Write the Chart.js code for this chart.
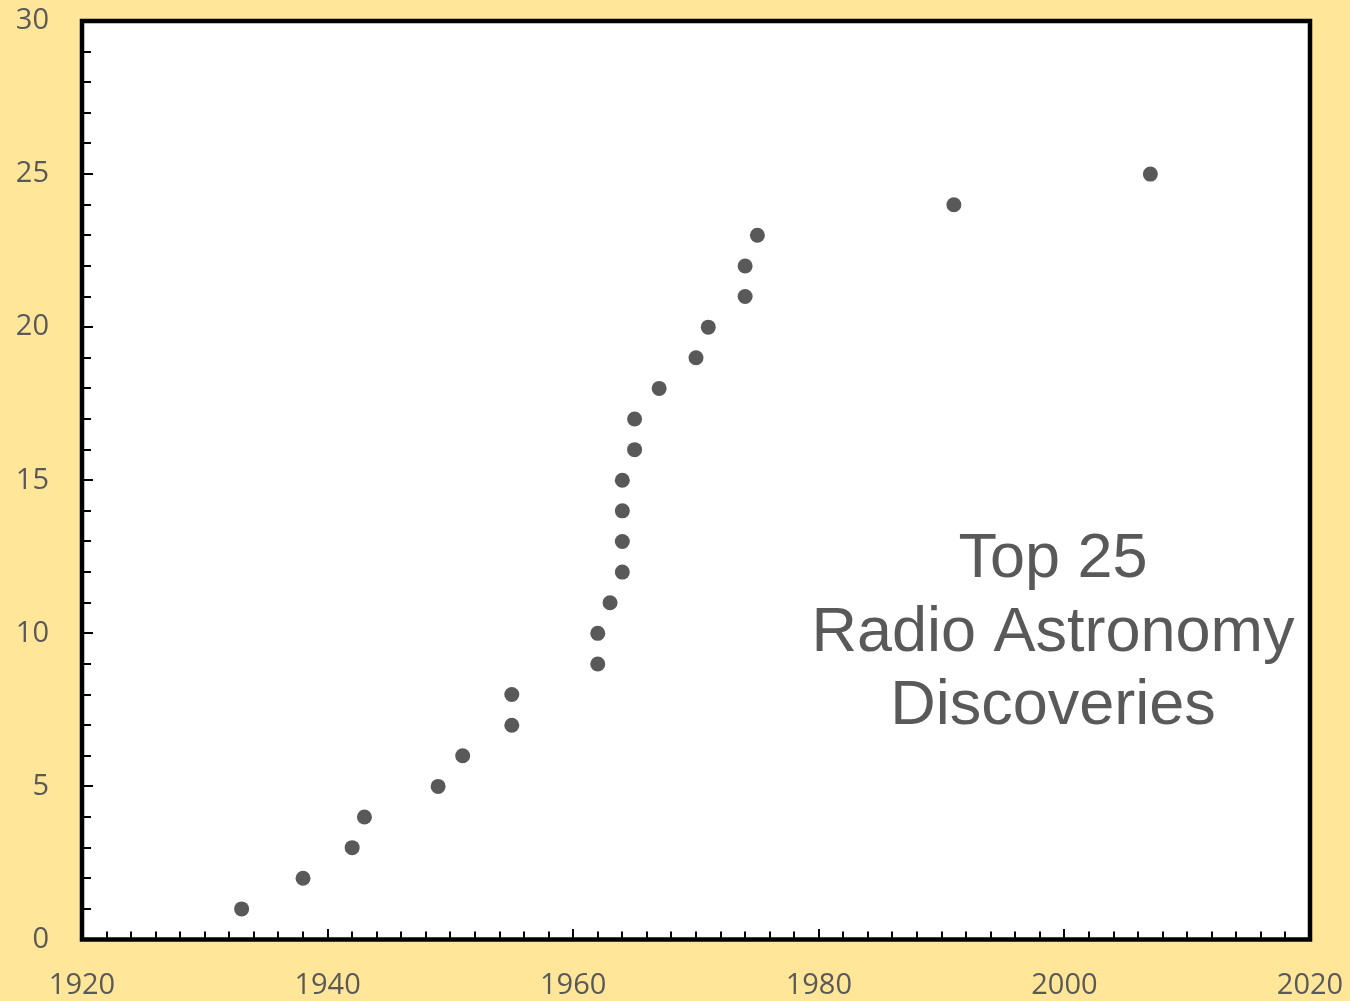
<!DOCTYPE html>
<html>
<head>
<meta charset="utf-8">
<script src="https://cdn.jsdelivr.net/npm/chart.js@4/dist/chart.umd.min.js"></script>
<style>
  html, body { margin: 0; padding: 0; background: #FFE699; }
  #wrap { width: 1350px; height: 1001px; }
</style>
</head>
<body>
<div id="wrap"><canvas id="c" width="1350" height="1001"></canvas></div>
<script>
// Year of each discovery, in ranked order (rank 1..25)
const discoveryYears = [1933, 1938, 1942, 1943, 1949, 1951, 1955, 1955, 1962, 1962,
                        1963, 1964, 1964, 1964, 1964, 1965, 1965, 1967, 1970, 1971,
                        1974, 1974, 1975, 1991, 2007];
// Cumulative count of discoveries
const discoveryCounts = [1, 2, 3, 4, 5, 6, 7, 8, 9, 10,
                         11, 12, 13, 14, 15, 16, 17, 18, 19, 20,
                         21, 22, 23, 24, 25];
// Axis tick labels
const xTicks = [1920, 1940, 1960, 1980, 2000, 2020];
const yTicks = [0, 5, 10, 15, 20, 25, 30];
const titleLines = ['Top 25', 'Radio Astronomy', 'Discoveries'];

const points = discoveryYears.map((yr, i) => ({ x: yr, y: discoveryCounts[i] }));

const GREY = '#595959';

// Frame around the plot area plus inward-pointing major/minor tick marks
const framePlugin = {
  id: 'frame',
  beforeDatasetsDraw(chart) {
    const { ctx, chartArea: a, scales } = chart;
    ctx.save();
    ctx.strokeStyle = '#000';
    ctx.lineWidth = 2;
    ctx.beginPath();
    // y ticks: minor every 1, major every 5
    for (let v = 1; v < 30; v++) {
      const py = Math.round(scales.y.getPixelForValue(v));
      const len = v % 5 === 0 ? 11 : 9;
      ctx.moveTo(a.left, py);
      ctx.lineTo(a.left + len, py);
    }
    // x ticks: minor every 2 years, major every 20
    for (let v = 1922; v < 2020; v += 2) {
      const px = Math.round(scales.x.getPixelForValue(v));
      const len = v % 20 === 0 ? 10.5 : 8;
      ctx.moveTo(px, a.bottom);
      ctx.lineTo(px, a.bottom - len);
    }
    ctx.stroke();
    ctx.lineWidth = 4.5;
    ctx.lineJoin = 'miter';
    ctx.strokeRect(a.left, a.top, a.right - a.left, a.bottom - a.top);
    ctx.restore();
  },
  afterDatasetsDraw(chart) {
    const { ctx } = chart;
    ctx.save();
    ctx.fillStyle = GREY;
    ctx.font = '63px "Liberation Sans", Arial, sans-serif';
    ctx.textAlign = 'center';
    ctx.textBaseline = 'alphabetic';
    const cx = 1053;
    const baselines = [577, 651, 724];
    titleLines.forEach((t, i) => ctx.fillText(t, cx, baselines[i]));
    ctx.restore();
  }
};

const bgPlugin = {
  id: 'bg',
  beforeDraw(chart) {
    const { ctx, chartArea: a } = chart;
    ctx.save();
    ctx.fillStyle = '#FFE699';
    ctx.fillRect(0, 0, chart.width, chart.height);
    ctx.fillStyle = '#FFFFFF';
    ctx.fillRect(a.left, a.top, a.right - a.left, a.bottom - a.top);
    ctx.restore();
  }
};

const tickFont = { family: '"Open Sans", sans-serif', size: 29 };
const plainNumber = v => String(v);

new Chart(document.getElementById('c'), {
  type: 'scatter',
  data: {
    datasets: [{
      data: points,
      backgroundColor: GREY,
      borderColor: GREY,
      borderWidth: 0,
      pointRadius: 7.5,
      pointHoverRadius: 7.5
    }]
  },
  options: {
    responsive: false,
    animation: false,
    devicePixelRatio: 1,
    layout: { padding: { left: 0, right: 40, top: 21, bottom: 0 } },
    plugins: { legend: { display: false }, tooltip: { enabled: false } },
    scales: {
      x: {
        type: 'linear',
        min: 1920, max: 2020,
        afterBuildTicks(scale) { scale.ticks = xTicks.map(v => ({ value: v })); },
        afterFit(scale) {
          scale.height = 61.5;
          scale.paddingLeft = 0; scale.paddingRight = 0;
          scale.paddingTop = 0; scale.paddingBottom = 0;
        },
        grid: { display: false, drawTicks: false },
        border: { display: false },
        ticks: { color: GREY, font: tickFont, padding: 29, maxRotation: 0, autoSkip: false, callback: plainNumber }
      },
      y: {
        type: 'linear',
        min: 0, max: 30,
        afterBuildTicks(scale) { scale.ticks = yTicks.map(v => ({ value: v })); },
        afterFit(scale) {
          scale.width = 82;
          scale.paddingLeft = 0; scale.paddingRight = 0;
          scale.paddingTop = 0; scale.paddingBottom = 0;
        },
        grid: { display: false, drawTicks: false },
        border: { display: false },
        ticks: { color: GREY, font: tickFont, padding: 33, autoSkip: false, callback: plainNumber }
      }
    }
  },
  plugins: [bgPlugin, framePlugin]
});
</script>
</body>
</html>
